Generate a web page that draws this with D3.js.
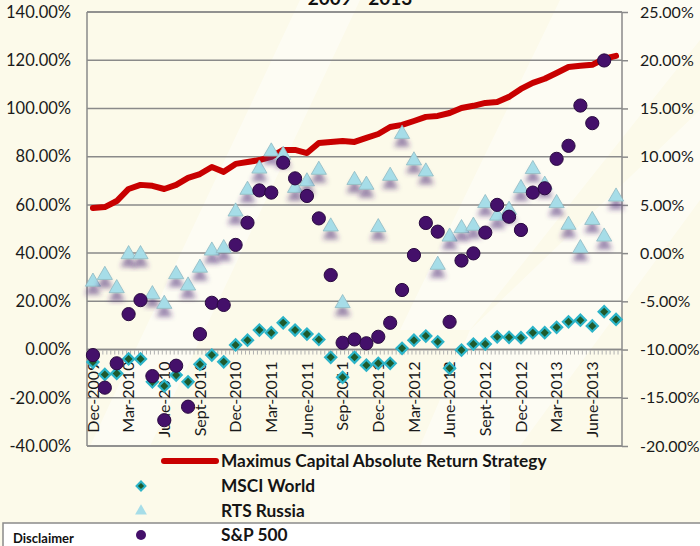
<!DOCTYPE html>
<html>
<head>
<meta charset="utf-8">
<script src="https://cdn.jsdelivr.net/npm/d3@7"></script>
<style>
  html, body { margin: 0; padding: 0; background: #fcfaea; }
  svg { display: block; }
  text { font-family: Lato, "Liberation Sans", sans-serif; }
</style>
</head>
<body>
<svg id="chart" width="700" height="546"></svg>
<script>
// ---------------- data ----------------
const months = [
  "Dec-2009","Jan-2010","Feb-2010","Mar-2010","Apr-2010","May-2010","June-2010","Jul-2010","Aug-2010",
  "Sept-2010","Oct-2010","Nov-2010","Dec-2010","Jan-2011","Feb-2011","Mar-2011","Apr-2011","May-2011",
  "June-2011","Jul-2011","Aug-2011","Sep-2011","Oct-2011","Nov-2011","Dec-2011","Jan-2012","Feb-2012",
  "Mar-2012","Apr-2012","May-2012","June-2012","Jul-2012","Aug-2012","Sept-2012","Oct-2012","Nov-2012",
  "Dec-2012","Jan-2013","Feb-2013","Mar-2013","Apr-2013","May-2013","June-2013","Jul-2013","Aug-2013"
];
const tickLabels = ["Dec-2009","Mar-2010","June-2010","Sept-2010","Dec-2010","Mar-2011","June-2011",
  "Sep-2011","Dec-2011","Mar-2012","June-2012","Sept-2012","Dec-2012","Mar-2013","June-2013"];
const leftTicks = [140,120,100,80,60,40,20,0,-20,-40];
const rightTicks = [25,20,15,10,5,0,-5,-10,-15,-20];

const maximus = [58.7,59.1,61.6,66.6,68.3,67.9,66.6,68.3,71.2,72.8,75.7,73.7,77.0,77.8,78.6,79.9,82.8,82.8,81.5,
  85.7,86.1,86.5,86.1,87.8,89.4,92.3,93.2,94.8,96.5,96.9,98.1,100.2,101.1,102.3,102.7,104.8,108.1,110.6,
  112.3,114.7,117.2,117.7,118.1,120.6,121.8];
const msciWorld = [-5.2,-10.3,-9.9,-3.9,-3.9,-13.4,-15.1,-10.6,-13.4,-6.1,-2.3,-5.1,1.9,3.9,8.1,7.0,11.1,8.1,6.4,
  4.2,-3.2,-11.5,-3.2,-6.5,-5.7,-5.7,0.5,3.9,5.6,3.2,-7.8,-0.2,2.3,2.3,5.3,5.1,4.9,7.0,7.0,9.2,11.5,12.2,
  9.8,15.7,12.5];
const rtsRussia = [28.1,30.9,25.4,39.5,39.5,22.9,18.9,31.2,26.5,33.9,41.0,42.0,57.2,66.2,75.0,82.1,80.7,67.0,69.7,
  74.5,51.0,19.2,70.3,68.3,50.7,72.0,89.4,78.4,73.8,35.1,46.8,50.3,51.3,60.7,55.5,57.9,66.9,74.8,68.3,
  60.7,51.7,42.0,53.7,46.8,63.4];
const sp500 = [-2.3,-15.8,-5.7,14.7,20.5,-11.0,-29.3,-6.7,-23.7,6.4,19.4,18.5,43.4,52.6,66.0,65.1,77.5,71.0,63.7,
  54.4,30.9,2.8,4.2,2.6,5.3,11.1,24.7,39.2,52.5,48.9,11.5,36.9,39.9,48.5,60.0,55.1,49.6,65.1,66.9,79.1,
  84.5,101.2,93.9,119.9,null];

const seriesNames = ["Maximus Capital Absolute Return Strategy","MSCI World","RTS Russia","S&P 500"];

// ---------------- layout ----------------
const W = 700, H = 546;
const plot = {left: 87, right: 622, top: 12, bottom: 446};
const svg = d3.select("#chart");

const x = d3.scaleBand().domain(months).range([plot.left, plot.right]).paddingInner(0).paddingOuter(0);
const xc = m => x(m) + x.bandwidth() / 2;
const y = d3.scaleLinear().domain([-40, 140]).range([plot.bottom, plot.top]);
const yR = d3.scaleLinear().domain([-20, 25]).range([plot.bottom, plot.top]);

const defs = svg.append("defs");
const f = defs.append("filter").attr("id","shadow").attr("x","-60%").attr("y","-60%").attr("width","220%").attr("height","260%");
f.append("feFlood").attr("flood-color","#4a2a78").attr("flood-opacity",0.55);
f.append("feComposite").attr("in2","SourceAlpha").attr("operator","in");
f.append("feGaussianBlur").attr("stdDeviation",2.6);
f.append("feOffset").attr("dy",8).attr("result","s");
const fm = f.append("feMerge");
fm.append("feMergeNode").attr("in","s");
fm.append("feMergeNode").attr("in","SourceGraphic");

// background and faint watermark bands
svg.append("rect").attr("width",W).attr("height",H).attr("fill","#fcfaea");
const bands = [
  [[560,0],[700,0],[700,40],[470,330],[400,330]],
  [[300,0],[360,0],[150,446],[90,446]],
  [[470,330],[700,110],[700,200],[520,446],[420,446]]
];
svg.append("g").selectAll("path").data(bands).join("path")
  .attr("d", d => "M" + d.join("L") + "Z")
  .attr("fill","#ffffff").attr("opacity",0.45);
svg.append("rect").attr("x",310).attr("y",446).attr("width",200).attr("height",77).attr("fill","#ffffff").attr("opacity",0.4);

// gridlines
svg.append("g").selectAll("line").data(leftTicks).join("line")
  .attr("x1",plot.left).attr("x2",plot.right)
  .attr("y1",d=>y(d)).attr("y2",d=>y(d))
  .attr("stroke","#8a8a8a").attr("stroke-width",1.5);

// plot border (left, right)
svg.append("line").attr("x1",plot.left).attr("x2",plot.left).attr("y1",plot.top).attr("y2",plot.bottom)
  .attr("stroke","#8a8a8a").attr("stroke-width",1.5);
svg.append("line").attr("x1",plot.right).attr("x2",plot.right).attr("y1",plot.top).attr("y2",plot.bottom)
  .attr("stroke","#8a8a8a").attr("stroke-width",1.5);

// left axis labels
svg.append("g").selectAll("text").data(leftTicks).join("text")
  .attr("x",71).attr("y",d=>y(d)).attr("dy","0.35em").attr("text-anchor","end")
  .attr("font-size",16.5).attr("fill","#1a1a1a")
  .text(d => d.toFixed(2) + "%");

// right axis
const rAxis = d3.axisRight(yR).tickValues(rightTicks).tickSize(6).tickPadding(12)
  .tickFormat(d => d.toFixed(2) + "%");
const rg = svg.append("g").attr("transform",`translate(${plot.right},0)`).call(rAxis);
rg.select(".domain").remove();
rg.selectAll(".tick line").attr("stroke","#8a8a8a").attr("stroke-width",1.5);
rg.selectAll(".tick text").attr("font-size",16).attr("fill","#1a1a1a").attr("font-family","Lato, sans-serif");

// x axis minor ticks (date-axis style) at zero line
const minorCount = months.length * 3;
const minorTicks = d3.range(minorCount + 1).map(i => plot.left + i * (plot.right - plot.left) / minorCount);
svg.append("g").selectAll("line").data(minorTicks).join("line")
  .attr("x1",d=>d).attr("x2",d=>d).attr("y1",y(0)+1).attr("y2",y(0)+5)
  .attr("stroke","#b0b0b0").attr("stroke-width",1);
svg.append("line").attr("x1",plot.left).attr("x2",plot.right).attr("y1",y(0)).attr("y2",y(0))
  .attr("stroke","#8a8a8a").attr("stroke-width",1.5);

// x labels
svg.append("g").selectAll("text").data(tickLabels).join("text")
  .attr("transform",(d,i)=>`translate(${xc(months[i*3])},${y(0)+12}) rotate(-90)`)
  .attr("text-anchor","end").attr("dy","0.36em")
  .attr("font-size",16).attr("fill","#1a1a1a")
  .text(d=>d);

// Maximus line
const lineGen = d3.line().x((d,i)=>xc(months[i])).y(d=>y(d)).curve(d3.curveLinear);
svg.append("path").datum(maximus).attr("d",lineGen)
  .attr("fill","none").attr("stroke","#c80000").attr("stroke-width",6)
  .attr("stroke-linecap","round").attr("stroke-linejoin","round");

// MSCI World diamonds
const diamond = d3.symbol(d3.symbolSquare, 62);
svg.append("g").selectAll("path").data(msciWorld.map((v,i)=>({v,m:months[i]})).filter(d=>d.v!=null)).join("path")
  .attr("d",diamond())
  .attr("transform",d=>`translate(${xc(d.m)},${y(d.v)}) rotate(45)`)
  .attr("fill","#1e5a2c").attr("stroke","#2cb4c8").attr("stroke-width",2.2);

// RTS Russia triangles
const tri = d3.symbol(d3.symbolTriangle, 100);
svg.append("g").selectAll("path").data(rtsRussia.map((v,i)=>({v,m:months[i]})).filter(d=>d.v!=null)).join("path")
  .attr("d",tri())
  .attr("transform",d=>`translate(${xc(d.m)},${y(d.v)})`)
  .attr("fill","#a6dde8").attr("stroke","#8fb9c2").attr("stroke-width",0.8)
  .attr("filter","url(#shadow)");

// S&P 500 circles
svg.append("g").selectAll("circle").data(sp500.map((v,i)=>({v,m:months[i]})).filter(d=>d.v!=null)).join("circle")
  .attr("cx",d=>xc(d.m)).attr("cy",d=>y(d.v)).attr("r",6.6)
  .attr("fill","#44106a").attr("stroke","#2a0a40").attr("stroke-width",1);

// top / bottom border
svg.append("line").attr("x1",plot.left).attr("x2",plot.right).attr("y1",plot.top).attr("y2",plot.top)
  .attr("stroke","#8a8a8a").attr("stroke-width",1.5);
svg.append("line").attr("x1",plot.left).attr("x2",plot.right).attr("y1",plot.bottom).attr("y2",plot.bottom)
  .attr("stroke","#8a8a8a").attr("stroke-width",1.5);

// title (partly above the top edge, as in the reference)
svg.append("text").attr("x",360).attr("y",5).attr("text-anchor","middle")
  .attr("font-size",19).attr("font-weight","bold").attr("fill","#111")
  .text("2009 - 2013");

// disclaimer box
svg.append("rect").attr("x",3).attr("y",523).attr("width",W+10).attr("height",40)
  .attr("fill","#ffffff").attr("stroke","#8a8a8a").attr("stroke-width",1.5);
svg.append("text").attr("x",13).attr("y",543).attr("font-size",13).attr("font-weight","bold")
  .attr("fill","#111").text("Disclaimer");

// legend
const legY = [461, 486, 511, 535];
const lg = svg.append("g");
lg.append("line").attr("x1",164).attr("x2",216).attr("y1",legY[0]).attr("y2",legY[0])
  .attr("stroke","#c80000").attr("stroke-width",6).attr("stroke-linecap","round");
lg.append("path").attr("d",d3.symbol(d3.symbolSquare,40)())
  .attr("transform",`translate(141,${legY[1]}) rotate(45)`)
  .attr("fill","#1e5a2c").attr("stroke","#2cb4c8").attr("stroke-width",2);
lg.append("path").attr("d",d3.symbol(d3.symbolTriangle,60)())
  .attr("transform",`translate(141,${legY[2]})`)
  .attr("fill","#a6dde8");
lg.append("circle").attr("cx",141).attr("cy",legY[3]).attr("r",5).attr("fill","#44106a");
lg.selectAll("text").data(seriesNames).join("text")
  .attr("x",221).attr("y",(d,i)=>legY[i]).attr("dy","0.36em")
  .attr("font-size",17.3).attr("font-weight","bold").attr("fill","#151515")
  .text(d=>d);
</script>
</body>
</html>
